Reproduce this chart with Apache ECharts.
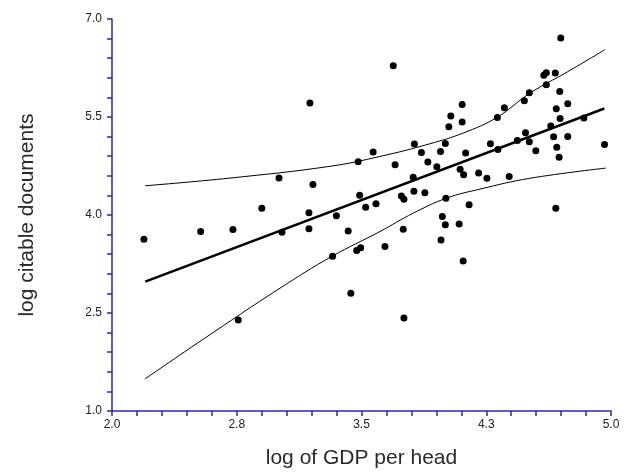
<!DOCTYPE html>
<html>
<head>
<meta charset="utf-8">
<script src="https://cdn.jsdelivr.net/npm/echarts@6/dist/echarts.min.js"></script>
<style>html,body{margin:0;padding:0;background:#fff}#c{width:628px;height:472px}</style>
</head>
<body>
<div id="c"></div>
<script>
// Scatter points: log GDP per head (x) and log citable documents (y)
var gdpX = [2.192,2.533,2.727,2.759,2.901,3.004,3.022,3.184,3.184,3.190,3.208,3.326,3.349,3.420,3.436,3.471,3.495,3.480,3.489,3.525,3.570,3.587,3.641,3.691,3.702,3.740,3.755,3.751,3.755,3.811,3.815,3.818,3.860,3.881,3.899,3.953,3.975,3.978,3.986,4.004,4.004,4.007,4.025,4.037,4.087,4.093,4.105,4.105,4.111,4.114,4.126,4.147,4.204,4.254,4.275,4.320,4.317,4.359,4.388,4.437,4.479,4.486,4.509,4.509,4.548,4.596,4.611,4.611,4.665,4.638,4.655,4.671,4.674,4.688,4.692,4.694,4.698,4.668,4.740,4.740,4.837,4.961];
var docsY = [3.630,3.747,3.777,2.394,4.105,4.565,3.737,3.788,4.033,5.714,4.467,3.367,3.987,3.757,2.803,3.456,3.497,4.814,4.304,4.120,4.963,4.171,3.517,6.285,4.768,4.289,4.240,3.783,2.422,4.577,4.362,5.085,4.957,4.339,4.811,4.738,4.972,3.619,3.976,3.849,5.095,4.258,5.351,5.514,3.862,4.702,5.692,5.424,3.295,4.615,4.949,4.156,4.643,4.562,5.090,5.004,5.493,5.642,4.588,5.141,5.749,5.259,5.871,5.121,4.983,6.139,6.178,5.994,6.173,5.361,5.197,5.626,5.036,4.883,5.891,5.478,6.709,4.105,5.703,5.202,5.484,5.079];

var fitX = [2.2, 4.96];
var fitY = [2.98, 5.63];

// Upper confidence curve
var upperX = [2.198,2.709,3.310,3.611,3.911,4.111,4.314,4.512,4.736,4.963];
var upperY = [4.447,4.565,4.745,4.896,5.090,5.254,5.493,5.864,6.188,6.530];

// Lower confidence curve
var lowerX = [2.198,2.549,3.010,3.320,3.611,3.811,4.011,4.212,4.512,4.969];
var lowerY = [1.490,2.100,2.880,3.364,3.747,4.028,4.258,4.396,4.562,4.718];

// Axis tick labels
var xTickValues = [2, 2.75, 3.5, 4.25, 5];
var xTickLabels = ['2.0','2.8','3.5','4.3','5.0'];
var yTickValues = [1, 2.5, 4, 5.5, 7];
var yTickLabels = ['1.0','2.5','4.0','5.5','7.0'];

function zip(a, b) { return a.map(function (v, i) { return [v, b[i]]; }); }
function minorTicks(min, step, n) { var r = []; for (var i = 0; i <= n; i++) r.push(+(min + i * step).toFixed(4)); return r; }
function labelFor(vals, labels) {
  return function (v) { for (var i = 0; i < vals.length; i++) if (Math.abs(vals[i] - v) < 1e-6) return labels[i]; return ''; };
}

var axisColor = '#2b2b9e';
var font = 'Liberation Sans, Arial, sans-serif';

var chart = echarts.init(document.getElementById('c'), null, {renderer: 'canvas'});
chart.setOption({
  animation: false,
  backgroundColor: '#fff',
  grid: {left: 112, right: 17, top: 19, bottom: 61, containLabel: false, outerBoundsMode: 'none'},
  xAxis: {
    type: 'value', min: 2, max: 5,
    name: 'log of GDP per head', nameLocation: 'middle', nameGap: 37,
    nameTextStyle: {fontFamily: font, fontSize: 21, color: '#2a2a2a'},
    axisLine: {show: true, lineStyle: {color: axisColor, width: 1.5}},
    axisTick: {show: true, inside: false, length: 5, lineStyle: {color: axisColor, width: 1.5}, customValues: minorTicks(2, 0.15, 20)},
    axisLabel: {customValues: xTickValues, formatter: labelFor(xTickValues, xTickLabels), margin: 8, fontFamily: font, fontSize: 12, color: '#222'},
    splitLine: {show: false}
  },
  yAxis: {
    type: 'value', min: 1, max: 7,
    name: 'log citable documents', nameLocation: 'middle', nameGap: 74, nameRotate: 90,
    nameTextStyle: {fontFamily: font, fontSize: 21, color: '#2a2a2a'},
    axisLine: {show: true, lineStyle: {color: axisColor, width: 1.5}},
    axisTick: {show: true, inside: false, length: 5, lineStyle: {color: axisColor, width: 1.5}, customValues: minorTicks(1, 0.3, 20)},
    axisLabel: {customValues: yTickValues, formatter: labelFor(yTickValues, yTickLabels), margin: 10, fontFamily: font, fontSize: 12, color: '#222'},
    splitLine: {show: false}
  },
  series: [
    {type: 'line', data: zip(upperX, upperY), smooth: 0.4, symbol: 'none', lineStyle: {color: '#000', width: 1}},
    {type: 'line', data: zip(lowerX, lowerY), smooth: 0.4, symbol: 'none', lineStyle: {color: '#000', width: 1}},
    {type: 'line', data: zip(fitX, fitY), symbol: 'none', lineStyle: {color: '#000', width: 2.5}},
    {type: 'scatter', data: zip(gdpX, docsY), symbol: 'circle', symbolSize: 7, itemStyle: {color: '#000', opacity: 1}}
  ]
});
</script>
</body>
</html>
